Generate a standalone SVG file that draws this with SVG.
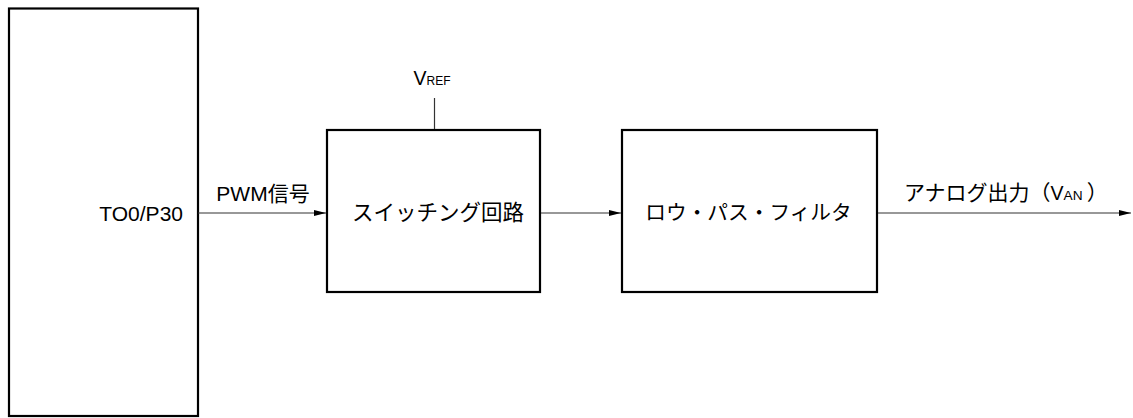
<svg xmlns="http://www.w3.org/2000/svg" width="1133" height="418" viewBox="0 0 1133 418">
<style>
.box{fill:#fff;stroke:#000;stroke-width:2.2}
.con{stroke:#333;stroke-width:1.2;fill:none}
text{font-family:"Liberation Sans","Noto Sans CJK JP",sans-serif;fill:#000;font-size:21px}
.big{font-size:19.5px}
.small{font-size:13.5px}
</style>
<defs>
<marker id="arr" markerUnits="userSpaceOnUse" markerWidth="13" markerHeight="7" refX="12" refY="3" orient="auto">
<path d="M0,0 L12,3 L0,6 z" fill="#000"/>
</marker>
</defs>
<g id="mcu">
<rect class="box" x="9" y="8.5" width="189" height="407.5"/>
<text x="183" y="221" text-anchor="end">TO0/P30</text>
</g>
<g id="switch">
<rect class="box" x="327" y="130" width="213" height="162"/>
<text x="438" y="220" text-anchor="middle" style="font-size:21.5px">スイッチング回路</text>
</g>
<g id="filter">
<rect class="box" x="622" y="130" width="255" height="162"/>
<text x="748.5" y="220" text-anchor="middle" style="font-size:20.7px">ロウ・パス・フィルタ</text>
</g>
<g id="vref">
<text x="413.5" y="85"><tspan class="big">V</tspan><tspan style="font-size:12px">REF</tspan></text>
</g>
<g id="connectors">
<line class="con" x1="198" y1="213" x2="326" y2="213" marker-end="url(#arr)"/>
<line class="con" x1="541" y1="213" x2="621" y2="213" marker-end="url(#arr)"/>
<line class="con" x1="878" y1="213" x2="1131" y2="213" marker-end="url(#arr)"/>
<line class="con" x1="434.5" y1="98" x2="434.5" y2="129"/>
<text x="263" y="201" text-anchor="middle">PWM信号</text>
<text x="904" y="200">アナログ出力（<tspan class="big">V</tspan><tspan style="font-size:13.7px">AN</tspan><tspan dx="4">）</tspan></text>
</g>
</svg>
